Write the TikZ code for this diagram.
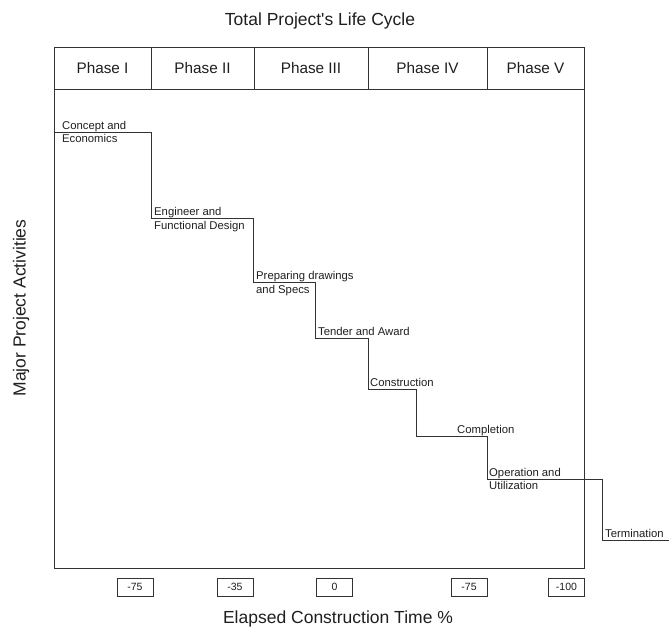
\documentclass[tikz,border=0pt]{standalone}
\usepackage{fontspec}
\setmainfont{Liberation Sans}
\newfontfamily\plainfont{Liberation Sans}
\begin{document}
\begin{tikzpicture}[x=1pt,y=-1pt,
  lin/.style={draw=black!80, line width=0.9pt},
  title/.style={font=\fontsize{17.5}{20}\selectfont, text=black!88, inner sep=0pt},
  phase/.style={font=\fontsize{15.3}{18}\selectfont, text=black!88, inner sep=0pt},
  act/.style={font=\fontsize{11.3}{13}\selectfont, text=black!88, inner sep=0pt, anchor=base west},
  tick/.style={draw=black!80, line width=0.8pt, minimum width=36pt, minimum height=18pt, inner sep=0pt,
    font=\fontsize{10.5}{12}\selectfont, text=black!88}]
\useasboundingbox (0,0) rectangle (669,630);
\fill[white] (0,0) rectangle (669,630);
% frame
\draw[lin] (54,47) rectangle (584,568);
\draw[lin] (54,89) -- (584,89);
\foreach \xx in {151,254,368,487}{\draw[lin] (\xx,47) -- (\xx,89);}
% titles
\node[title] (ttl) at (320,21) {\plainfont Total Project's Life Cycle};
\node[title, rotate=90] (ylab) at (21,308) {Major Project Activities};
\node[title] (xlab) at (338,619) {Elapsed Construction Time \%};
% phases
\node[phase] (p1) at (102.5,68) {Phase I};
\node[phase] (p2) at (202.5,68) {Phase II};
\node[phase] (p3) at (311,68) {Phase III};
\node[phase] (p4) at (427.5,68) {Phase IV};
\node[phase] (p5) at (535.5,68) {Phase V};
% staircase corners
\coordinate (s0) at (54,132);
\coordinate (s1) at (151,132);
\coordinate (s2) at (151,218);
\coordinate (s3) at (253,218);
\coordinate (s4) at (253,282);
\coordinate (s5) at (315,282);
\coordinate (s6) at (315,338);
\coordinate (s7) at (368,338);
\coordinate (s8) at (368,389);
\coordinate (s9) at (416,389);
\coordinate (s10) at (416,436);
\coordinate (s11) at (487,436);
\coordinate (s12) at (487,479);
\coordinate (s13) at (602,479);
\coordinate (s14) at (602,540);
\coordinate (s15) at (669,540);
\draw[lin] (s0) -- (s1) -- (s2) -- (s3) -- (s4) -- (s5) -- (s6) -- (s7) -- (s8) -- (s9)
  -- (s10) -- (s11) -- (s12) -- (s13) -- (s14) -- (s15);
% activity labels
\node[act] (a1a) at (62,129) {Concept and};
\node[act] (a1b) at (62,142) {Economics};
\node[act] (a2a) at (154,215) {Engineer and};
\node[act] (a2b) at (154,229) {Functional Design};
\node[act] (a3a) at (256,279) {Preparing drawings};
\node[act] (a3b) at (256,293) {and Specs};
\node[act] (a4) at (318,335) {Tender and Award};
\node[act] (a5) at (370,386) {Construction};
\node[act] (a6) at (457,433) {Completion};
\node[act] (a7a) at (489,476) {Operation and};
\node[act] (a7b) at (489,489) {Utilization};
\node[act] (a8) at (605,537) {Termination};
% time ticks
\node[tick] (t1) at (135,587) {-75};
\node[tick] (t2) at (235,587) {-35};
\node[tick] (t3) at (334.5,587) {0};
\node[tick] (t4) at (469,587) {-75};
\node[tick] (t5) at (566.5,587) {-100};
\end{tikzpicture}
\end{document}
